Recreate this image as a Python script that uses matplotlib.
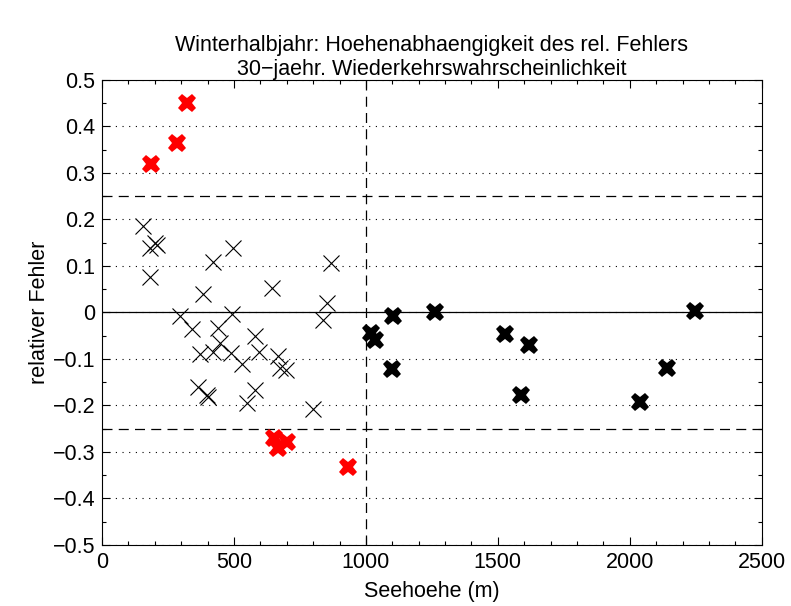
import matplotlib
matplotlib.use("Agg")
import matplotlib.pyplot as plt
from matplotlib.ticker import MultipleLocator

plt.rcParams['font.family'] = ['Liberation Sans', 'DejaVu Sans']

# thin black crosses (stations within limits, below 1000 m)
thin_x = [154, 182, 200, 208, 182, 422, 497, 381, 643, 867, 851, 836, 295, 491,
          340, 441, 447, 578, 371, 422, 487, 596, 531, 665, 674, 699, 365, 396,
          403, 578, 548, 798]
thin_y = [0.186, 0.139, 0.150, 0.145, 0.076, 0.109, 0.139, 0.039, 0.052, 0.107,
          0.021, -0.017, -0.0075, -0.004, -0.036, -0.034, -0.065, -0.0505, -0.090,
          -0.086, -0.088, -0.084, -0.111, -0.094, -0.119, -0.124, -0.160, -0.177,
          -0.182, -0.167, -0.194, -0.208]

# thick black crosses (stations above 1000 m)
thick_x = [1020, 1035, 1101, 1261, 1527, 1617, 1097, 1587, 2246, 2141, 2038]
thick_y = [-0.045, -0.060, -0.0075, 0.002, -0.047, -0.070, -0.122, -0.177,
           0.003, -0.119, -0.192]

# red crosses (outside +-0.25)
red_x = [186, 285, 321, 650, 665, 700, 932]
red_y = [0.319, 0.365, 0.451, -0.270, -0.291, -0.278, -0.332]

x_limits = [0, 2500]
y_limits = [-0.5, 0.5]
threshold = 0.25
height_split = 1000

fig = plt.figure(figsize=(7.91, 6.06), dpi=100)
ax = fig.add_axes([0.129, 0.1007, 0.834, 0.7673])

ax.set_xlim(x_limits)
ax.set_ylim(y_limits)

# reference lines
ax.axhline(0, color='black', lw=0.9, zorder=1)
ax.axhline(threshold, color='black', lw=0.9, ls=(0, (8, 5)), zorder=1)
ax.axhline(-threshold, color='black', lw=0.9, ls=(0, (8, 5)), zorder=1)
ax.axvline(height_split, color='black', lw=0.9, ls=(0, (8, 5)), zorder=1)

ax.plot(thin_x, thin_y, ls='none', marker='x', ms=12, mew=0.8, color='black', zorder=3)
ax.plot(thick_x, thick_y, ls='none', marker='X', ms=13.5, mew=0, color='black', zorder=3)
ax.plot(red_x, red_y, ls='none', marker='X', ms=13.5, mew=0, color='#ff0000', zorder=3)

ax.xaxis.set_major_locator(MultipleLocator(500))
ax.xaxis.set_minor_locator(MultipleLocator(100))
ax.yaxis.set_major_locator(MultipleLocator(0.1))
ax.yaxis.set_minor_locator(MultipleLocator(0.05))
ax.yaxis.grid(True, which='major', ls=(0, (1, 5)), color='black', lw=0.8)
ax.set_axisbelow(True)

ax.tick_params(which='both', direction='in', top=True, right=True, labelsize=15.5, pad=5)
ax.tick_params(which='major', length=6, width=0.8)
ax.tick_params(which='minor', length=3, width=0.8)
for s in ax.spines.values():
    s.set_linewidth(0.8)

ax.set_yticks([round(v, 1) for v in [i / 10 for i in range(-5, 6)]])
ax.set_yticklabels(['\u22120.5', '\u22120.4', '\u22120.3', '\u22120.2', '\u22120.1', '0',
                    '0.1', '0.2', '0.3', '0.4', '0.5'])

ax.set_xlabel('Seehoehe (m)', fontsize=15.5, labelpad=6)
ax.set_ylabel('relativer Fehler', fontsize=15.5, labelpad=2)
ax.set_title('Winterhalbjahr: Hoehenabhaengigkeit des rel. Fehlers\n30\u2212jaehr. Wiederkehrswahrscheinlichkeit',
             fontsize=15.5, pad=2, linespacing=1.2)

fig.savefig('out.png', dpi=100)
